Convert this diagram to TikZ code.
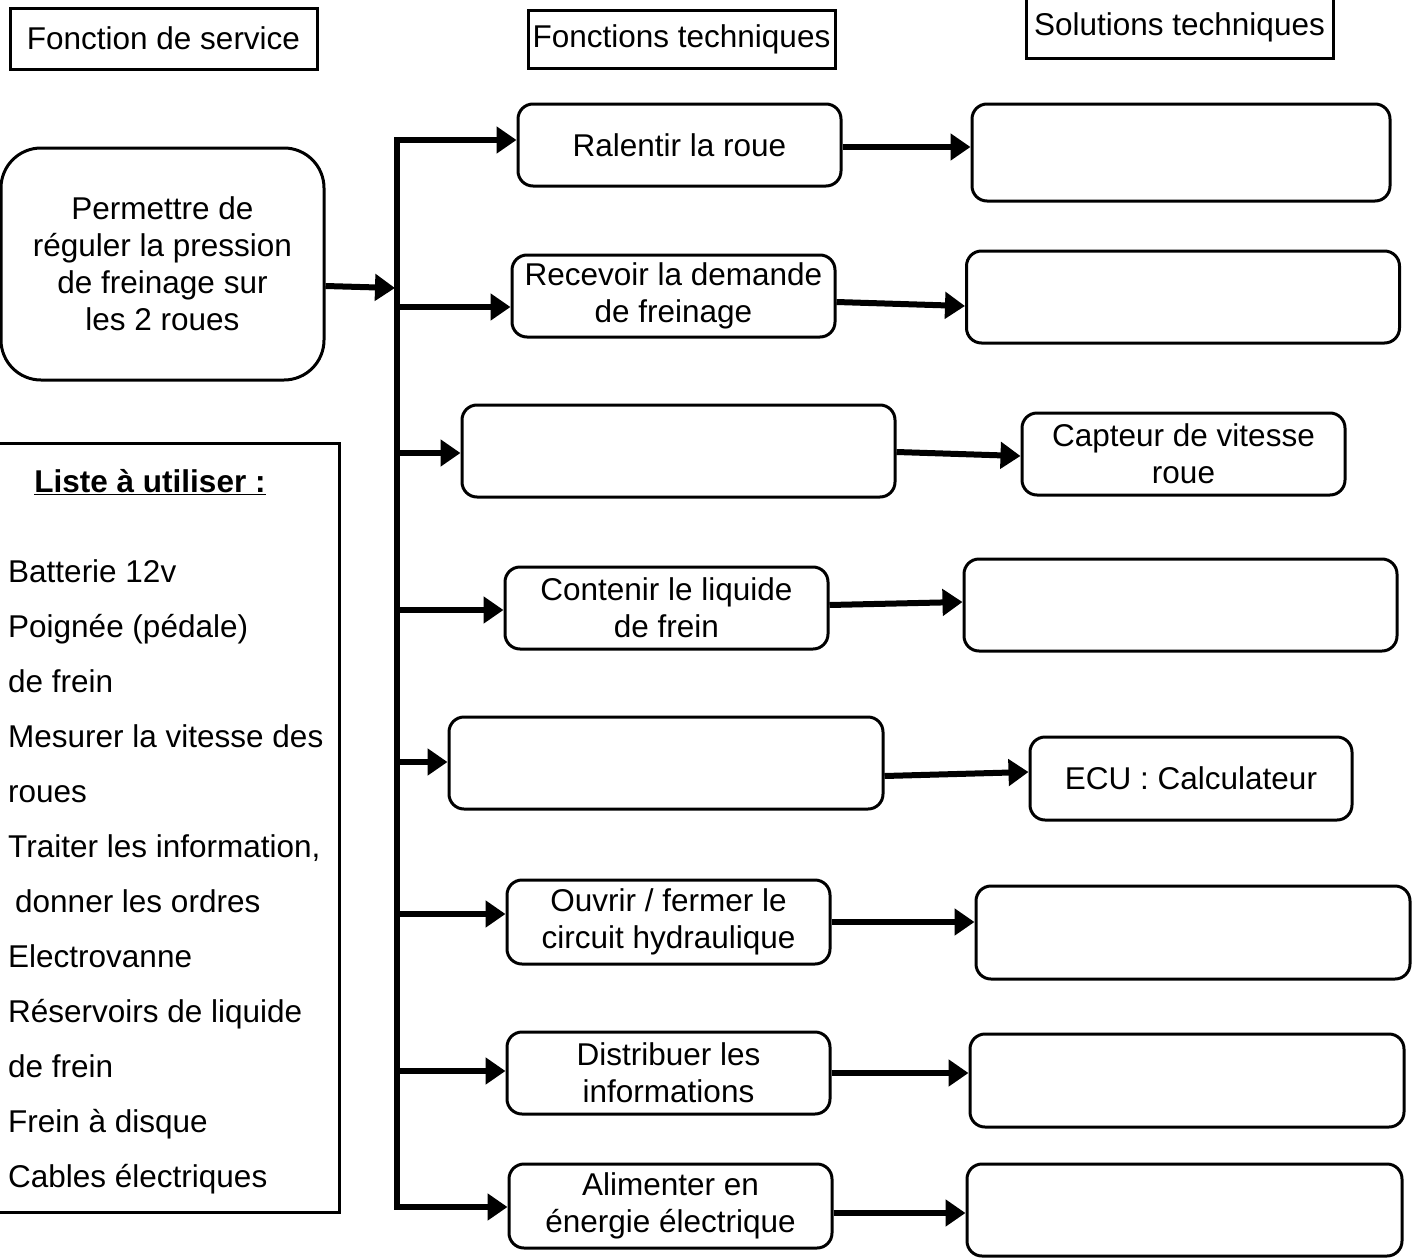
\documentclass[tikz,border=0pt]{standalone}
\usepackage{fontspec}
\setmainfont{Liberation Sans}
\usetikzlibrary{arrows.meta}

\begin{document}
\begin{tikzpicture}[x=1pt, y=-1pt,
      font=\fontsize{31.5}{37}\selectfont,
      titre/.style={draw, line width=3pt, minimum width=307pt, inner sep=2pt},
      fonction/.style={draw, line width=3pt, rounded corners=15pt, align=center,
                       minimum width=323pt, minimum height=82pt, inner sep=2pt},
      solution/.style={draw, line width=3pt, rounded corners=15pt, align=center,
                       minimum width=433pt, minimum height=92pt, inner sep=2pt},
      elem/.style={anchor=base west, inner sep=0pt},
      arrow/.style={->, >={Triangle[length=20pt,width=26pt]}, line width=6pt}]
    \useasboundingbox (0,0) rectangle (1414,1258);

    % titres des colonnes
    \node[titre, minimum height=61pt] (hfs) at (163.5,38.5) {Fonction de service};
    \node[titre, minimum height=58pt] (hft) at (681.5,39) {Fonctions techniques};
    \node[titre, minimum height=61pt] (hst) at (1179.5,27.5) {Solutions techniques};

    % fonction de service
    \node[draw, line width=3pt, rounded corners=40pt, align=center,
          minimum width=323pt, minimum height=232pt] (fs) at (162.5,264)
          {Permettre de\\réguler la pression\\de freinage sur\\les 2 roues};

    % liste
    \node[draw, line width=3pt, minimum width=344pt, minimum height=769pt] (liste) at (167,827.5) {};
    \node[font=\fontsize{31.5}{37}\selectfont\bfseries] (titreliste) at (150,482) {\underline{Liste à utiliser :}};
    \foreach \txt [count=\i from 0] in {Batterie 12v, Poignée (pédale), de frein,
        Mesurer la vitesse des, roues, {Traiter les information,},
        \hspace*{7pt}donner les ordres, Electrovanne, Réservoirs de liquide,
        de frein, Frein à disque, Cables électriques}
      \node[elem] (item\i) at (8,{582+55*\i}) {\txt};

    % fonctions techniques
    \node[fonction] (f1) at (679.5,145) {Ralentir la roue};
    \node[fonction] (f2) at (673.5,296) {Recevoir la demande\\de freinage};
    \node[fonction, minimum width=433pt, minimum height=92pt] (f3) at (678.5,451) {};
    \node[fonction] (f4) at (666.5,608) {Contenir le liquide\\de frein};
    \node[fonction, minimum width=434pt, minimum height=92pt] (f5) at (666,763) {};
    \node[fonction, minimum height=84pt] (f6) at (668.5,922) {Ouvrir / fermer le\\circuit hydraulique};
    \node[fonction] (f7) at (668.5,1073) {Distribuer les\\informations};
    \node[fonction, minimum height=84pt] (f8) at (670.5,1206) {Alimenter en\\énergie électrique};

    % solutions techniques
    \node[solution, minimum width=418pt, minimum height=97pt] (s1) at (1181,152.5) {};
    \node[solution] (s2) at (1183,297) {};
    \node[solution, minimum width=323pt, minimum height=82pt] (s3) at (1183.5,454) {Capteur de vitesse\\roue};
    \node[solution] (s4) at (1180.5,605) {};
    \node[solution, minimum width=322pt, minimum height=83pt] (s5) at (1191,778.5) {ECU : Calculateur};
    \node[solution, minimum width=434pt, minimum height=93pt] (s6) at (1193,932.5) {};
    \node[solution, minimum width=434pt, minimum height=93pt] (s7) at (1187,1080.5) {};
    \node[solution, minimum width=435pt] (s8) at (1184.5,1210) {};

    % tronc
    \coordinate (tin) at (395,288);
    \coordinate (b1) at (397,140);
    \coordinate (b2) at (397,307);
    \coordinate (b3) at (397,453);
    \coordinate (b4) at (397,610);
    \coordinate (b5) at (397,762);
    \coordinate (b6) at (397,914);
    \coordinate (b7) at (397,1071);
    \coordinate (b8) at (397,1207);
    \draw[line width=6pt] ([yshift=3pt]b1) -- ([yshift=-3pt]b8);
    \draw[arrow] ([yshift=-22pt]fs.east) -- (tin);

    \draw[arrow] (b1) -- (b1 -| f1.west);
    \draw[arrow] (b2) -- (b2 -| f2.west);
    \draw[arrow] (b3) -- (b3 -| f3.west);
    \draw[arrow] (b4) -- (b4 -| f4.west);
    \draw[arrow] (b5) -- (b5 -| f5.west);
    \draw[arrow] (b6) -- (b6 -| f6.west);
    \draw[arrow] (b7) -- (b7 -| f7.west);
    \draw[arrow] (b8) -- (b8 -| f8.west);

    \draw[arrow] ([yshift=-2pt]f1.east) -- ([yshift=-2pt]f1.east -| s1.west);
    \draw[arrow] ([yshift=-6pt]f2.east) -- ([yshift=-9pt]s2.west);
    \draw[arrow] ([yshift=-1pt]f3.east) -- ([yshift=-2pt]s3.west);
    \draw[arrow] ([yshift=3pt]f4.east) -- ([yshift=3pt]s4.west);
    \draw[arrow] ([yshift=-13pt]f5.east) -- ([yshift=6.5pt]s5.west);
    \draw[arrow] (f6.east) -- (f6.east -| s6.west);
    \draw[arrow] (f7.east) -- (f7.east -| s7.west);
    \draw[arrow] ([yshift=-7pt]f8.east) -- ([yshift=-7pt]f8.east -| s8.west);
  \end{tikzpicture}
\end{document}
